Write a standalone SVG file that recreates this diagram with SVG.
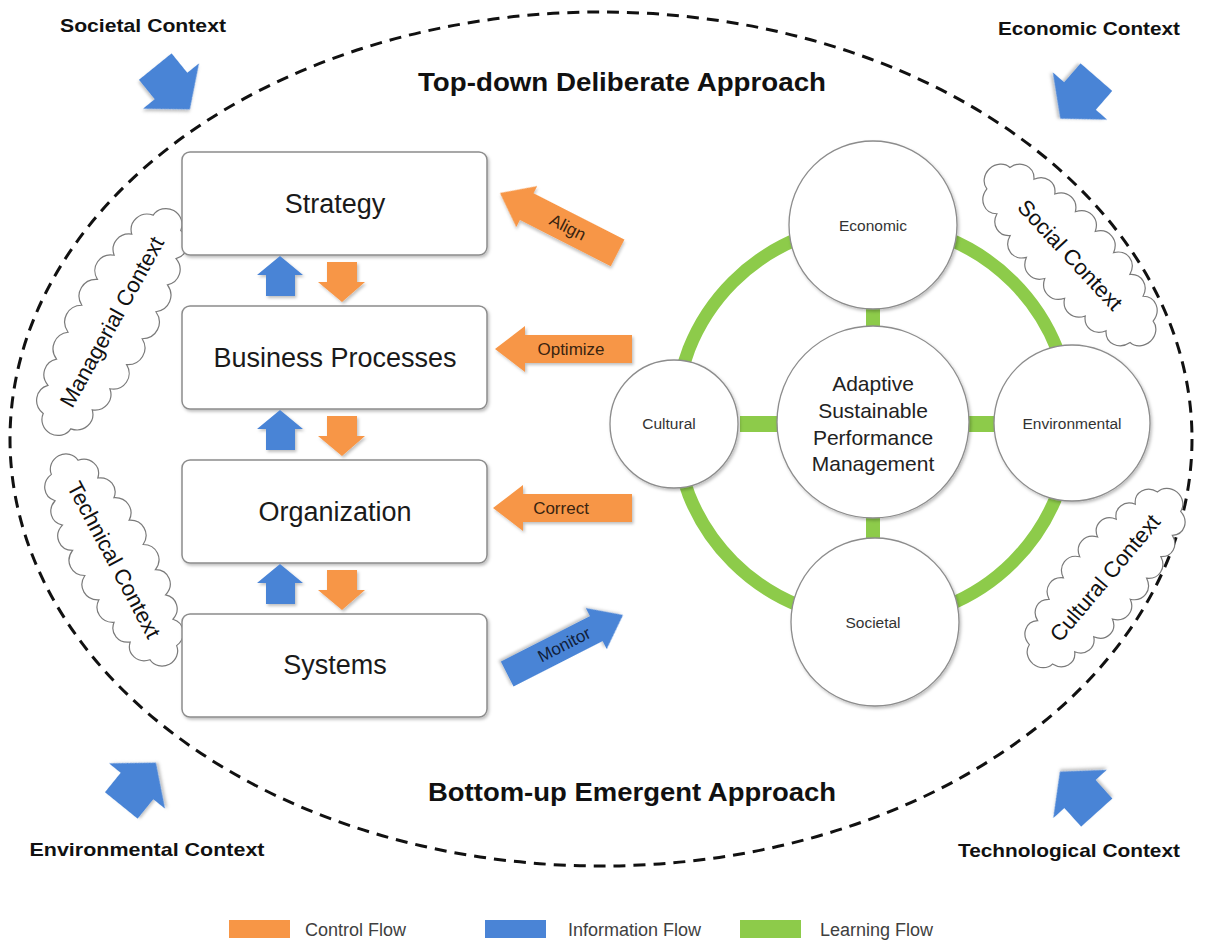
<svg xmlns="http://www.w3.org/2000/svg" xmlns:xlink="http://www.w3.org/1999/xlink" width="1205" height="941" viewBox="0 0 1205 941">
<style>
.box{fill:#fff;stroke:#8c8c8c;stroke-width:1.5}
.circ{fill:#fff;stroke:#8c8c8c;stroke-width:1.3}
.cloud{fill:#fff;stroke:#7a7a7a;stroke-width:1.2}
.orange{fill:#F79646}
.blue{fill:#4A84D6}
.green{fill:#8DCB4A}
.boxtxt{font-family:"Liberation Sans",Arial,sans-serif;font-size:27px;fill:#1a1a1a;text-anchor:middle;dominant-baseline:central}
.head{font-family:"Liberation Sans",Arial,sans-serif;font-size:26px;font-weight:bold;fill:#111;text-anchor:middle}
.ctx{font-family:"Liberation Sans",Arial,sans-serif;font-size:19px;font-weight:bold;fill:#111;text-anchor:middle}
.ctxc{font-family:"Liberation Sans",Arial,sans-serif;font-size:22px;fill:#111;text-anchor:middle;dominant-baseline:central}
.ctxw{font-family:"Liberation Sans",Arial,sans-serif;font-size:15.5px;fill:#333;text-anchor:middle;dominant-baseline:central}
.ctr{font-family:"Liberation Sans",Arial,sans-serif;font-size:21px;fill:#222;text-anchor:middle;dominant-baseline:central}
.lbl{font-family:"Liberation Sans",Arial,sans-serif;font-size:17px;fill:#3a2410;text-anchor:middle;dominant-baseline:central}
.lblb{font-family:"Liberation Sans",Arial,sans-serif;font-size:17px;fill:#10203a;text-anchor:middle;dominant-baseline:central}
.leg{font-family:"Liberation Sans",Arial,sans-serif;font-size:18px;fill:#404040;dominant-baseline:central}
</style>
<defs>
<filter id="sh" x="-20%" y="-20%" width="140%" height="140%">
<feDropShadow dx="1.5" dy="2" stdDeviation="1.5" flood-color="#000" flood-opacity="0.25"/>
</filter>
<path id="cloud" vector-effect="non-scaling-stroke" d="M118,0 A14,14 0 0 1 105,13.7 A15,15 0 0 1 80,22 A15,15 0 0 1 55,26.5 A16,16 0 0 1 28,29.1 A16,16 0 0 1 0,30 A16,16 0 0 1 -28,29.1 A15,15 0 0 1 -55,26.5 A15,15 0 0 1 -80,22 A15,15 0 0 1 -105,13.7 A14,14 0 0 1 -118,0 A14,14 0 0 1 -105,-13.7 A15,15 0 0 1 -80,-22 A15,15 0 0 1 -55,-26.5 A16,16 0 0 1 -28,-29.1 A16,16 0 0 1 0,-30 A16,16 0 0 1 28,-29.1 A15,15 0 0 1 55,-26.5 A15,15 0 0 1 80,-22 A15,15 0 0 1 105,-13.7 A14,14 0 0 1 118,0 Z"/>
<path id="ctxArrow" d="M-25,-21 L0,-21 L0,-36 L30,0 L0,36 L0,21 L-25,21 Z"/>
<path id="upArrow" d="M0,0 L23,19 L15,19 L15,40 L-14,40 L-14,19 L-23,19 Z"/>
<path id="downArrow" d="M0,0 L-24,-20 L-15,-20 L-15,-40 L15,-40 L15,-20 L23,-20 Z"/>
</defs>

<rect width="1205" height="941" fill="#fff"/>

<!-- boundary -->
<g id="boundary">
<ellipse cx="601" cy="439" rx="591" ry="427" fill="none" stroke="#111" stroke-width="3" stroke-dasharray="12 8"/>
<text class="head" x="622" y="91" textLength="408" lengthAdjust="spacingAndGlyphs">Top-down Deliberate Approach</text>
<text class="head" x="632" y="801" textLength="408" lengthAdjust="spacingAndGlyphs">Bottom-up Emergent Approach</text>
</g>

<!-- outer context arrows -->
<g id="ctx-societal">
<use href="#ctxArrow" class="blue" transform="translate(171,86) rotate(51)" filter="url(#sh)"/>
<text class="ctx" x="143" y="32" textLength="166" lengthAdjust="spacingAndGlyphs">Societal Context</text>
</g>
<g id="ctx-economic">
<use href="#ctxArrow" class="blue" transform="translate(1080,96) rotate(131)" filter="url(#sh)"/>
<text class="ctx" x="1089" y="35" textLength="182" lengthAdjust="spacingAndGlyphs">Economic Context</text>
</g>
<g id="ctx-environmental">
<use href="#ctxArrow" class="blue" transform="translate(137,786) rotate(-51)" filter="url(#sh)"/>
<text class="ctx" x="147" y="856" textLength="235" lengthAdjust="spacingAndGlyphs">Environmental Context</text>
</g>
<g id="ctx-technological">
<use href="#ctxArrow" class="blue" transform="translate(1080,794) rotate(-132)" filter="url(#sh)"/>
<text class="ctx" x="1069" y="857" textLength="222" lengthAdjust="spacingAndGlyphs">Technological Context</text>
</g>

<!-- clouds -->
<g id="cloud-managerial" transform="translate(112,322) rotate(-61)">
<use href="#cloud" class="cloud" transform="scale(1.08,1.15)"/>
<text class="ctxc" x="0" y="0">Managerial Context</text>
</g>
<g id="cloud-technical" transform="translate(114,560) rotate(62)">
<use href="#cloud" class="cloud" transform="scale(1,1.1)"/>
<text class="ctxc" x="0" y="0">Technical Context</text>
</g>
<g id="cloud-social" transform="translate(1070,255) rotate(47)">
<use href="#cloud" class="cloud" transform="scale(1,1.15)"/>
<text class="ctxc" x="0" y="0">Social Context</text>
</g>
<g id="cloud-cultural" transform="translate(1105,578) rotate(-50)">
<use href="#cloud" class="cloud" transform="scale(0.95,1.1)"/>
<text class="ctxc" x="0" y="0">Cultural Context</text>
</g>

<!-- left stack -->
<g id="strategy">
<rect class="box" x="182" y="152" width="305" height="103" rx="8" filter="url(#sh)"/>
<text class="boxtxt" x="335" y="204">Strategy</text>
</g>
<g id="business-processes">
<rect class="box" x="182" y="306" width="305" height="103" rx="8" filter="url(#sh)"/>
<text class="boxtxt" x="335" y="358">Business Processes</text>
</g>
<g id="organization">
<rect class="box" x="182" y="460" width="305" height="103" rx="8" filter="url(#sh)"/>
<text class="boxtxt" x="335" y="512">Organization</text>
</g>
<g id="systems">
<rect class="box" x="182" y="614" width="305" height="103" rx="8" filter="url(#sh)"/>
<text class="boxtxt" x="335" y="665">Systems</text>
</g>

<!-- right wheel -->
<g id="learning-ring">
<circle cx="873" cy="422" r="198" fill="none" stroke="#8DCB4A" stroke-width="13"/>
<rect class="green" x="866" y="305" width="14" height="26"/>
<rect class="green" x="866" y="514" width="14" height="28"/>
<rect class="green" x="740" y="416" width="42" height="16"/>
<rect class="green" x="965" y="416" width="32" height="16"/>
</g>
<g id="economic">
<circle class="circ" cx="873" cy="225" r="84" filter="url(#sh)"/>
<text class="ctxw" x="873" y="225">Economic</text>
</g>
<g id="societal">
<circle class="circ" cx="875" cy="622" r="84" filter="url(#sh)"/>
<text class="ctxw" x="873" y="622">Societal</text>
</g>
<g id="cultural">
<circle class="circ" cx="674" cy="424" r="64" filter="url(#sh)"/>
<text class="ctxw" x="669" y="423">Cultural</text>
</g>
<g id="environmental">
<circle class="circ" cx="1072" cy="423" r="78" filter="url(#sh)"/>
<text class="ctxw" x="1072" y="423">Environmental</text>
</g>
<g id="aspm">
<circle class="circ" cx="873" cy="422" r="96" filter="url(#sh)"/>
<text class="ctr" x="873" y="383">Adaptive</text>
<text class="ctr" x="873" y="410">Sustainable</text>
<text class="ctr" x="873" y="437">Performance</text>
<text class="ctr" x="873" y="463">Management</text>
</g>

<!-- connectors -->
<g id="connectors">
<use href="#upArrow" class="blue" transform="translate(280,256)" filter="url(#sh)"/>
<use href="#downArrow" class="orange" transform="translate(342,302)" filter="url(#sh)"/>
<use href="#upArrow" class="blue" transform="translate(280,410)" filter="url(#sh)"/>
<use href="#downArrow" class="orange" transform="translate(342,456)" filter="url(#sh)"/>
<use href="#upArrow" class="blue" transform="translate(280,564)" filter="url(#sh)"/>
<use href="#downArrow" class="orange" transform="translate(342,610)" filter="url(#sh)"/>

<g id="align" transform="translate(500,193) rotate(27)">
<path class="orange" d="M0,0 L30,-23 L30,-15 L132,-15 L132,15 L30,15 L30,23 Z" filter="url(#sh)"/>
<text class="lbl" x="76" y="0">Align</text>
</g>
<g id="optimize" transform="translate(495,349)">
<path class="orange" d="M0,0 L30,-23 L30,-14 L137,-14 L137,14 L30,14 L30,23 Z" filter="url(#sh)"/>
<text class="lbl" x="76" y="0">Optimize</text>
</g>
<g id="correct" transform="translate(493,508)">
<path class="orange" d="M0,0 L30,-23 L30,-14 L139,-14 L139,14 L30,14 L30,23 Z" filter="url(#sh)"/>
<text class="lbl" x="68" y="0">Correct</text>
</g>
<g id="monitor" transform="translate(623,615) rotate(153)">
<path class="blue" d="M0,0 L30,-23 L30,-14 L130,-14 L130,14 L30,14 L30,23 Z" filter="url(#sh)"/>
<text class="lblb" x="66" y="0" transform="rotate(180 66 0)">Monitor</text>
</g>
</g>

<!-- legend -->
<g id="legend">
<rect class="orange" x="229" y="920" width="61" height="18"/>
<text class="leg" x="305" y="930">Control Flow</text>
<rect class="blue" x="485" y="920" width="61" height="18"/>
<text class="leg" x="568" y="930">Information Flow</text>
<rect class="green" x="740" y="920" width="61" height="18"/>
<text class="leg" x="820" y="930">Learning Flow</text>
</g>
</svg>
